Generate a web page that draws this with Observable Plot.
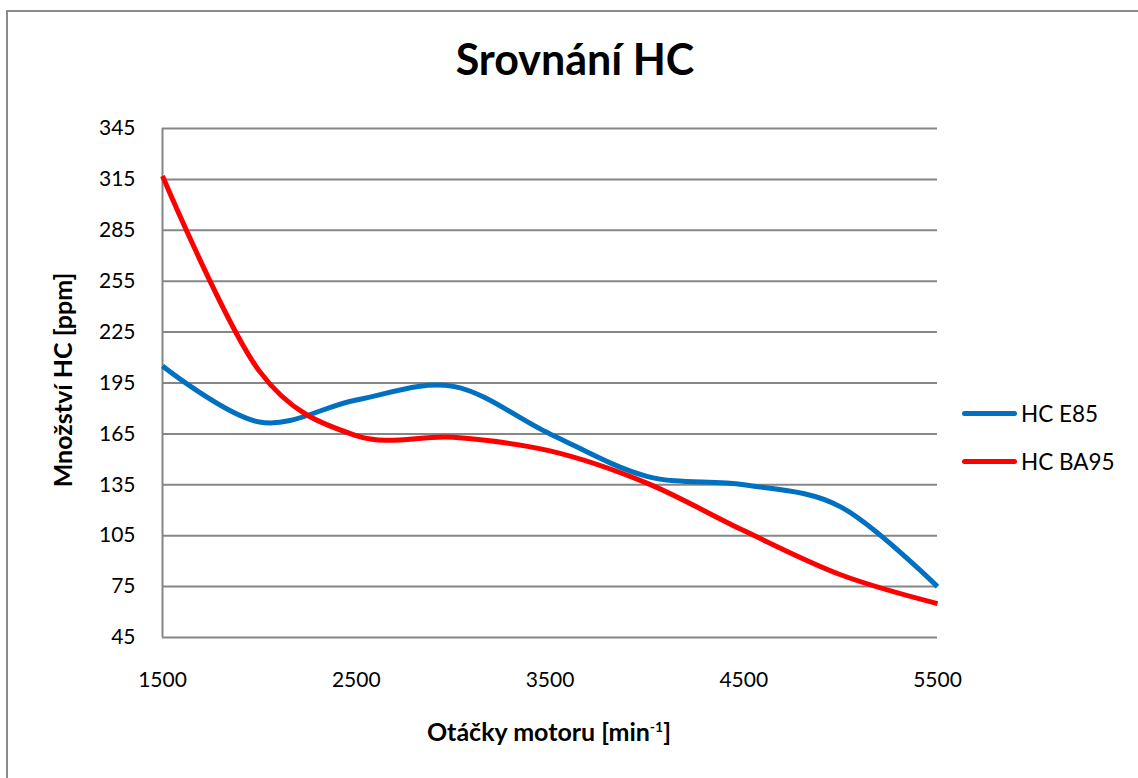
<!DOCTYPE html>
<html>
<head>
<meta charset="utf-8">
<script src="https://cdn.jsdelivr.net/npm/d3@7"></script>
<script src="https://cdn.jsdelivr.net/npm/@observablehq/plot@0.6"></script>
<style>
  html, body { margin: 0; padding: 0; background: #fff; overflow: hidden; }
  #wrap { position: relative; width: 1138px; height: 778px; overflow: hidden; font-family: Lato, "Open Sans", sans-serif; color: #000; }
  #frame { position: absolute; left: 6px; top: 10px; width: 1300px; height: 900px; border: 2px solid #8a8a8a; box-sizing: border-box; }
  #chart { position: absolute; left: 0; top: 0; }
  .title { position: absolute; left: 0; width: 1150px; top: 33px; text-align: center; font-weight: bold; font-size: 43px; }
  .xlabel { position: absolute; left: 349px; width: 400px; top: 716px; text-align: center; font-weight: bold; font-size: 25px; }
  .ylabel { position: absolute; left: 62px; top: 380px; transform: translate(-50%, -50%) rotate(-90deg); white-space: nowrap; font-weight: bold; font-size: 25px; }
  .legend { position: absolute; left: 962px; font-size: 22.5px; display: flex; align-items: center; }
  .legend .sw { width: 55px; height: 5px; border-radius: 3px; margin-right: 4px; }
</style>
</head>
<body>
<div id="wrap">
  <div id="frame"></div>
  <div id="chart"></div>
  <div class="title">Srovnání HC</div>
  <div class="ylabel">Množství HC [ppm]</div>
  <div class="xlabel">Otáčky motoru [min<sup style="font-size:14px">-1</sup>]</div>
  <div id="legend"></div>
</div>
<script>
const rpm = [1500, 2000, 2500, 3000, 3500, 4000, 4500, 5000, 5500];
const hcE85 = [205, 172, 185, 193, 165, 140, 135, 122, 75];
const hcBA95 = [317, 202, 164, 163, 155, 136, 108, 82, 65];
const seriesNames = ["HC E85", "HC BA95"];
const seriesColors = ["#0070C0", "#FF0000"];
const xTicks = [1500, 2500, 3500, 4500, 5500];
const yTicks = [45, 75, 105, 135, 165, 195, 225, 255, 285, 315, 345];

const data = [];
[hcE85, hcBA95].forEach((vals, i) => {
  vals.forEach((v, j) => data.push({series: seriesNames[i], rpm: rpm[j], hc: v}));
});

const plot = Plot.plot({
  width: 1138,
  height: 778,
  marginTop: 128,
  marginBottom: 141,
  marginLeft: 162,
  marginRight: 201,
  style: {fontFamily: "Lato, 'Open Sans', sans-serif", fontSize: "21px", color: "#000", background: "transparent", overflow: "visible"},
  x: {domain: [1500, 5500], ticks: xTicks, tickSize: 0, tickPadding: 35, label: null, tickFormat: d => String(d)},
  y: {domain: [45, 345], ticks: yTicks, tickSize: 0, tickPadding: 27, label: null, tickFormat: d => String(d)},
  color: {domain: seriesNames, range: seriesColors},
  marks: [
    Plot.gridY(yTicks, {stroke: "#868686", strokeOpacity: 1, strokeWidth: 2}),
    Plot.ruleX([1500], {stroke: "#868686", strokeWidth: 2}),
    Plot.axisX({ticks: xTicks, tickSize: 0, tickPadding: 35, label: null, tickFormat: d => String(d)}),
    Plot.axisY({ticks: yTicks, tickSize: 0, tickPadding: 27, label: null, tickFormat: d => String(d)}),
    Plot.line(data, {x: "rpm", y: "hc", z: "series", stroke: "series", strokeWidth: 5, curve: "cardinal", tension: 0, strokeLinecap: "butt"})
  ]
});
document.getElementById("chart").appendChild(plot);

const legend = document.getElementById("legend");
const legendTops = [400, 448];
seriesNames.forEach((name, i) => {
  const item = document.createElement("div");
  item.className = "legend";
  item.style.top = legendTops[i] + "px";
  item.innerHTML = `<div class="sw" style="background:${seriesColors[i]}"></div><span>${name}</span>`;
  legend.appendChild(item);
});
</script>
</body>
</html>
